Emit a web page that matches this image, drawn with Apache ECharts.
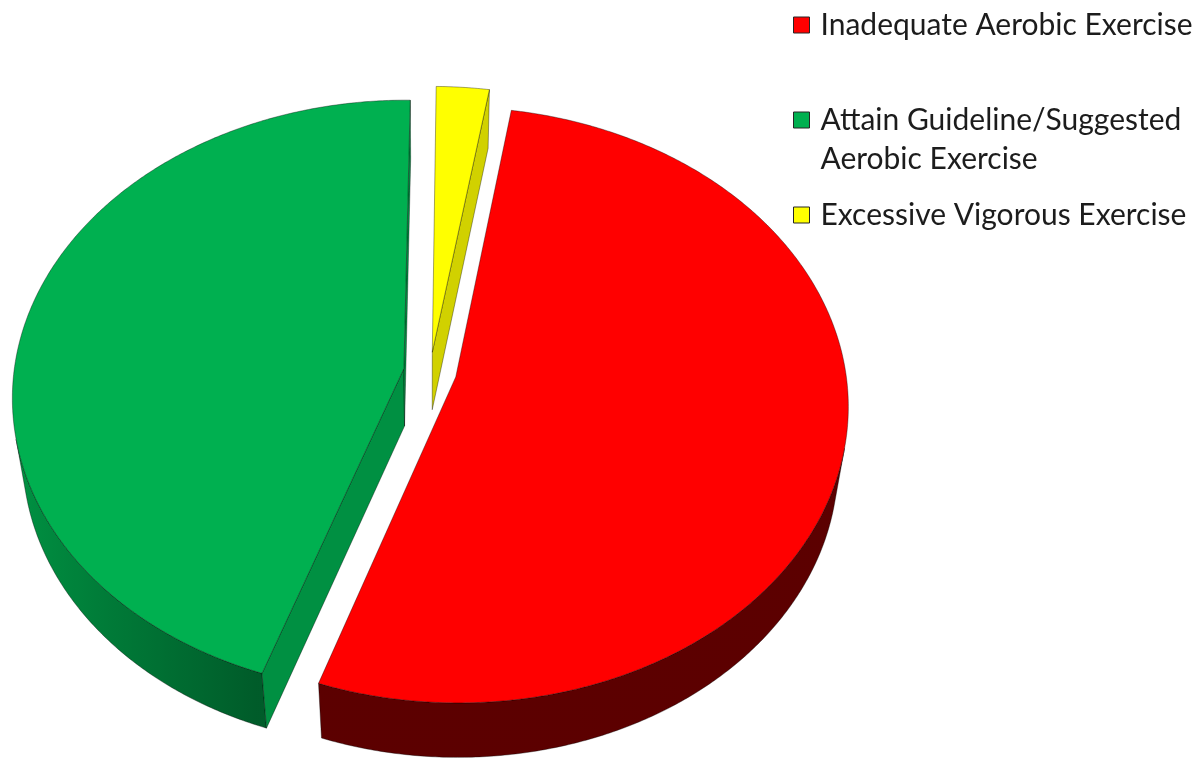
<!DOCTYPE html>
<html>
<head>
<meta charset="utf-8">
<title>Aerobic exercise</title>
<script src="https://cdn.jsdelivr.net/npm/echarts@6/dist/echarts.min.js"></script>
<style>
  html, body { margin: 0; padding: 0; background: #ffffff; }
  #chart { width: 1202px; height: 766px; }
</style>
</head>
<body>
<div id="chart"></div>
<script>
// ---- data ----
const categories = [
  'Inadequate Aerobic Exercise',
  'Attain Guideline/Suggested Aerobic Exercise',
  'Excessive Vigorous Exercise'
];
const shares = [52.7, 44.9, 2.4];
const legendLabels = [
  'Inadequate Aerobic Exercise',
  'Attain Guideline/Suggested\nAerobic Exercise',
  'Excessive Vigorous Exercise'
];

// ---- styling ----
const palette = ['#FF0000', '#00B050', '#FFFF00'];
const stacking = [4, 3, 2];           // front slices painted last

// 3D pie camera: a disc seen from above-front with mild perspective
const view = {
  cx: 430, cy: 372,       // projected centre of the top face
  radius: 390,            // horizontal radius at the centre depth (px)
  dist: 6.97,             // camera distance in radii
  tilt: 49.0,             // camera elevation, degrees
  depth: 0.23,            // slab thickness in radii
  explode: 0.068,         // slice separation in radii
  startAngle: 9.3         // first slice starts here, clockwise from 12 o'clock
};

const tilt = view.tilt * Math.PI / 180;
const sinT = Math.sin(tilt), cosT = Math.cos(tilt);

function project(u, h, v) {
  const z = view.dist + v * cosT - h * sinT;
  const k = view.radius * view.dist / z;
  return [view.cx + u * k, view.cy - (h * cosT + v * sinT) * k];
}

function hexToRgb(hex) {
  const n = parseInt(hex.slice(1), 16);
  return [(n >> 16) & 255, (n >> 8) & 255, n & 255];
}
function rgbToHsl(rgb) {
  const [r, g, b] = rgb.map(x => x / 255);
  const max = Math.max(r, g, b), min = Math.min(r, g, b);
  const l = (max + min) / 2;
  let h = 0, s = 0;
  if (max !== min) {
    const d = max - min;
    s = l > 0.5 ? d / (2 - max - min) : d / (max + min);
    if (max === r) h = (g - b) / d + (g < b ? 6 : 0);
    else if (max === g) h = (b - r) / d + 2;
    else h = (r - g) / d + 4;
    h /= 6;
  }
  return [h, s, l];
}
function hslToCss(h, s, l) {
  return 'hsl(' + (h * 360).toFixed(1) + ',' + (s * 100).toFixed(1) + '%,' + (l * 100).toFixed(1) + '%)';
}
function scaleLightness(hex, f) {
  const [h, s, l] = rgbToHsl(hexToRgb(hex));
  return hslToCss(h, s, Math.min(1, l * f));
}
function wallColor(hex, theta) {
  // outer wall: dark towards the front and right, brighter where it turns to the left
  const [h, s] = rgbToHsl(hexToRgb(hex));
  const lift = Math.max(0, Math.min(1, (-Math.sin(theta) - 0.34) / 0.66));
  return hslToCss(h, s, 0.18 + 0.11 * lift);
}

const edge = { stroke: 'rgba(0,0,0,0.45)', lineWidth: 0.8, lineJoin: 'round' };

function renderSlice(params, api) {
  const idx = params.seriesIndex;
  const total = shares.reduce((a, b) => a + b, 0);
  let before = 0;
  for (let i = 0; i < idx; i++) before += shares[i];
  const value = api.value(0);
  const deg = Math.PI / 180;
  const a0 = (view.startAngle + before / total * 360) * deg;
  const a1 = (view.startAngle + (before + value) / total * 360) * deg;
  const mid = (a0 + a1) / 2;
  const u0 = view.explode * Math.sin(mid);
  const v0 = view.explode * Math.cos(mid);
  const H = view.depth;
  const base = palette[idx];

  const camU = 0, camV = -view.dist * cosT;

  const steps = Math.max(12, Math.ceil((a1 - a0) / (0.5 * deg)));
  const thetas = [];
  for (let i = 0; i <= steps; i++) thetas.push(a0 + (a1 - a0) * i / steps);

  const rim = t => [u0 + Math.sin(t), v0 + Math.cos(t)];
  const children = [];

  // outer curved wall (only the part turned towards the camera)
  const visible = thetas.filter(t => {
    const [u, v] = rim(t);
    return Math.sin(t) * (camU - u) + Math.cos(t) * (camV - v) > 0;
  });
  if (visible.length > 1) {
    const topPts = visible.map(t => { const [u, v] = rim(t); return project(u, 0, v); });
    const botPts = visible.map(t => { const [u, v] = rim(t); return project(u, -H, v); }).reverse();
    const pts = topPts.concat(botPts);
    const xs = pts.map(p => p[0]);
    const xmin = Math.min.apply(null, xs), xmax = Math.max.apply(null, xs);
    const span = Math.max(1, xmax - xmin);
    const stops = visible.map((t, i) => ({
      offset: Math.max(0, Math.min(1, (topPts[i][0] - xmin) / span)),
      color: wallColor(base, t)
    })).sort((a, b) => a.offset - b.offset);
    children.push({
      type: 'polygon',
      shape: { points: pts },
      style: Object.assign({
        fill: { type: 'linear', x: xmin, y: 0, x2: xmax, y2: 0, global: true, colorStops: stops }
      }, edge)
    });
  }

  // flat cut faces along the two radii
  const cut = (t, sign) => {
    const n = sign < 0 ? [-Math.cos(t), Math.sin(t)] : [Math.cos(t), -Math.sin(t)];
    if (n[0] * (camU - u0) + n[1] * (camV - v0) <= 0) return;
    const [u, v] = rim(t);
    children.push({
      type: 'polygon',
      shape: { points: [project(u0, 0, v0), project(u, 0, v), project(u, -H, v), project(u0, -H, v0)] },
      style: Object.assign({ fill: scaleLightness(base, 0.82) }, edge)
    });
  };
  cut(a0, -1);
  cut(a1, 1);

  // top face
  const top = [project(u0, 0, v0)].concat(thetas.map(t => { const [u, v] = rim(t); return project(u, 0, v); }));
  children.push({
    type: 'polygon',
    shape: { points: top },
    style: Object.assign({ fill: base }, edge)
  });

  return { type: 'group', children: children };
}

const chart = echarts.init(document.getElementById('chart'), null, { renderer: 'canvas' });
chart.setOption({
  backgroundColor: '#ffffff',
  animation: false,
  legend: {
    orient: 'vertical',
    left: 793,
    top: 5.5,
    padding: 0,
    itemGap: 17,
    itemWidth: 16,
    itemHeight: 16,
    icon: 'rect',
    selectedMode: false,
    data: categories,
    formatter: name => {
      const i = categories.indexOf(name);
      return i === 1 ? '\n' + legendLabels[i] : legendLabels[i];
    },
    itemStyle: { borderColor: '#262626', borderWidth: 1 },
    textStyle: {
      fontFamily: 'Lato',
      fontSize: 30,
      lineHeight: 39,
      color: '#1c1c1c',
      padding: [0, 0, 0, 6]
    }
  },
  series: categories.map((name, i) => ({
    type: 'custom',
    name: name,
    coordinateSystem: 'none',
    z: stacking[i],
    itemStyle: { color: palette[i] },
    data: [[shares[i]]],
    renderItem: renderSlice
  }))
});
</script>
</body>
</html>
